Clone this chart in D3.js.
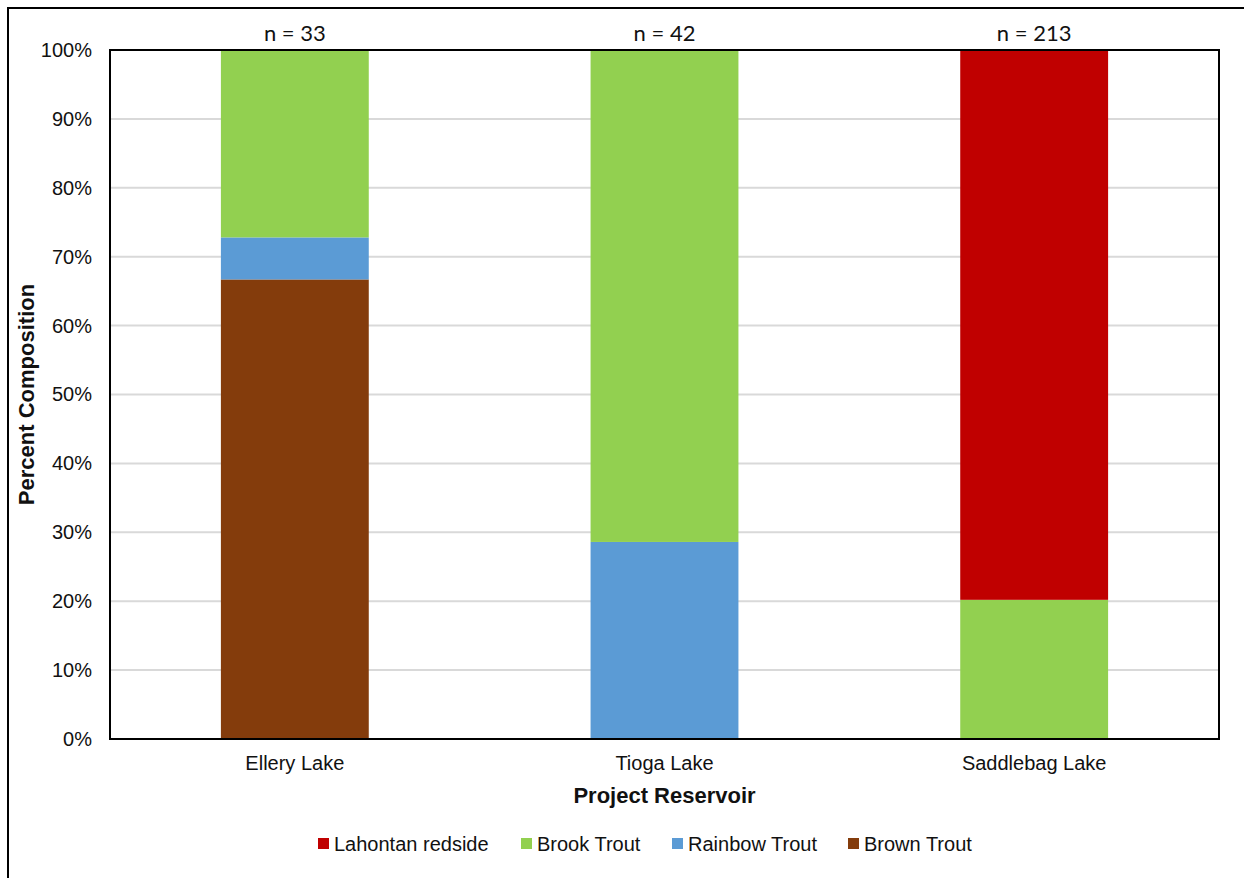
<!DOCTYPE html>
<html>
<head>
<meta charset="utf-8">
<script src="https://cdn.jsdelivr.net/npm/d3@7"></script>
<style>
  html, body { margin: 0; padding: 0; background: #fff; }
  svg { display: block; }
</style>
</head>
<body>
<svg id="chart" width="1244" height="878"></svg>
<script>
// Species composition of fish captured at each project reservoir
const reservoirs = ["Ellery Lake", "Tioga Lake", "Saddlebag Lake"];
const sampleSizes = [33, 42, 213];
const species = ["Brown Trout", "Rainbow Trout", "Brook Trout", "Lahontan redside"];
// Percent of each reservoir's catch, one array per species (same order as reservoirs)
const brownTrout = [66.7, 0, 0];
const rainbowTrout = [6.1, 28.6, 0];
const brookTrout = [27.2, 71.4, 20.2];
const lahontanRedside = [0, 0, 79.8];
const yTicks = [0, 10, 20, 30, 40, 50, 60, 70, 80, 90, 100];
const legendOrder = ["Lahontan redside", "Brook Trout", "Rainbow Trout", "Brown Trout"];

const colors = {
  "Brown Trout": "#843C0C",
  "Rainbow Trout": "#5B9BD5",
  "Brook Trout": "#92D050",
  "Lahontan redside": "#C00000"
};

const seriesValues = {
  "Brown Trout": brownTrout,
  "Rainbow Trout": rainbowTrout,
  "Brook Trout": brookTrout,
  "Lahontan redside": lahontanRedside
};

const rows = reservoirs.map((r, i) => {
  const row = { reservoir: r };
  species.forEach(s => { row[s] = seriesValues[s][i]; });
  return row;
});

const svg = d3.select("#chart");
const font = "'Liberation Sans', Arial, sans-serif";
const textColor = "#111";
const plot = { left: 110, top: 50, right: 1219, bottom: 739 };

// Outer chart frame
svg.append("rect")
  .attr("x", 8).attr("y", 8)
  .attr("width", 1300).attr("height", 1000)
  .attr("fill", "none").attr("stroke", "#000").attr("stroke-width", 2);

const x = d3.scaleBand()
  .domain(reservoirs)
  .range([plot.left, plot.right])
  .paddingInner(0.6)
  .paddingOuter(0.3);

const y = d3.scaleLinear()
  .domain([0, 100])
  .range([plot.bottom, plot.top]);

// Gridlines
svg.append("g")
  .selectAll("line")
  .data(yTicks.filter(t => t > 0 && t < 100))
  .join("line")
  .attr("x1", plot.left).attr("x2", plot.right)
  .attr("y1", d => y(d)).attr("y2", d => y(d))
  .attr("stroke", "#D9D9D9").attr("stroke-width", 2);

// Stacked bars
const stack = d3.stack().keys(species);
const layers = stack(rows);

svg.append("g")
  .selectAll("g")
  .data(layers)
  .join("g")
  .attr("fill", d => colors[d.key])
  .selectAll("rect")
  .data(d => d)
  .join("rect")
  .attr("x", d => x(d.data.reservoir))
  .attr("width", x.bandwidth())
  .attr("y", d => y(d[1]))
  .attr("height", d => y(d[0]) - y(d[1]));

// Plot area border
svg.append("rect")
  .attr("x", plot.left).attr("y", plot.top)
  .attr("width", plot.right - plot.left)
  .attr("height", plot.bottom - plot.top)
  .attr("fill", "none").attr("stroke", "#000").attr("stroke-width", 2);

// Y axis labels
const yAxis = d3.axisLeft(y)
  .tickValues(yTicks)
  .tickFormat(d => d + "%")
  .tickSize(0)
  .tickPadding(18);
const yg = svg.append("g").attr("transform", `translate(${plot.left},0)`).call(yAxis);
yg.select(".domain").remove();
yg.selectAll("text")
  .attr("font-family", font).attr("font-size", 20).attr("fill", textColor);

// X axis labels
const xAxis = d3.axisBottom(x).tickSize(0).tickPadding(14);
const xg = svg.append("g").attr("transform", `translate(0,${plot.bottom})`).call(xAxis);
xg.select(".domain").remove();
xg.selectAll("text")
  .attr("dy", null)
  .attr("y", 31)
  .attr("font-family", font).attr("font-size", 20).attr("fill", textColor);

// Sample size labels above each bar
svg.append("g")
  .selectAll("text")
  .data(reservoirs)
  .join("text")
  .attr("x", d => x(d) + x.bandwidth() / 2)
  .attr("y", 41)
  .attr("text-anchor", "middle")
  .attr("font-family", "Lato, 'Open Sans', sans-serif")
  .attr("font-size", 22)
  .attr("fill", textColor)
  .text((d, i) => "n = " + sampleSizes[i]);

// Axis titles
svg.append("text")
  .attr("transform", `translate(34,${(plot.top + plot.bottom) / 2}) rotate(-90)`)
  .attr("text-anchor", "middle")
  .attr("font-family", font).attr("font-weight", "bold").attr("font-size", 22)
  .attr("fill", textColor)
  .text("Percent Composition");

svg.append("text")
  .attr("x", (plot.left + plot.right) / 2)
  .attr("y", 803)
  .attr("text-anchor", "middle")
  .attr("font-family", font).attr("font-weight", "bold").attr("font-size", 22)
  .attr("fill", textColor)
  .text("Project Reservoir");

// Legend
const legendX = [318, 521, 672, 848];
const legend = svg.append("g")
  .selectAll("g")
  .data(legendOrder)
  .join("g")
  .attr("transform", (d, i) => `translate(${legendX[i]},0)`);
legend.append("rect")
  .attr("x", 0).attr("y", 838)
  .attr("width", 11).attr("height", 11)
  .attr("fill", d => colors[d]);
legend.append("text")
  .attr("x", 16).attr("y", 851)
  .attr("font-family", font).attr("font-size", 20).attr("fill", textColor)
  .text(d => d);
</script>
</body>
</html>
